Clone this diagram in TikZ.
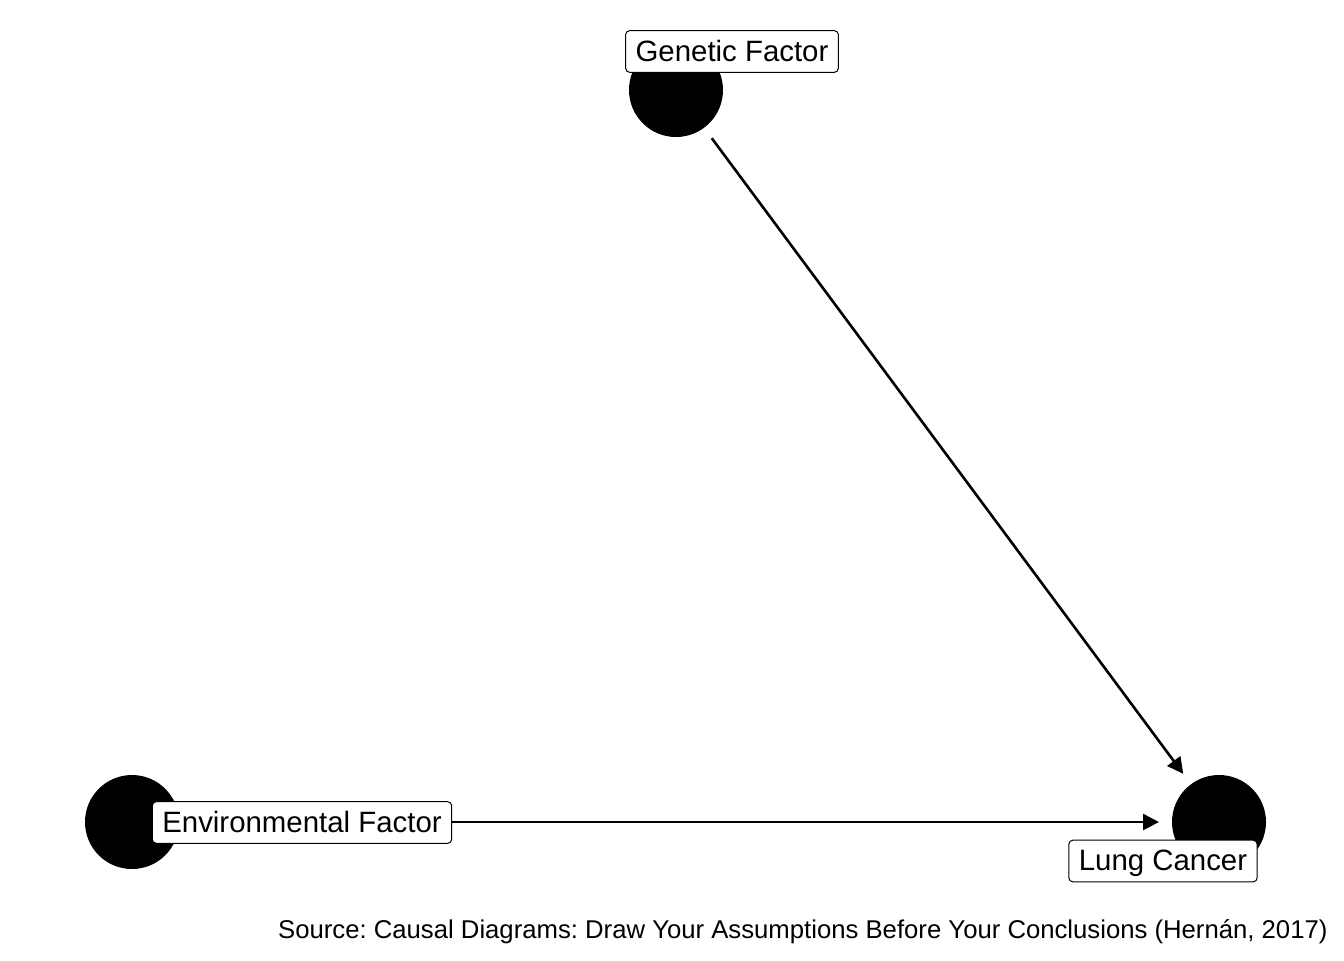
\documentclass[tikz,border=0pt]{standalone}
\usepackage{fontspec}
\setmainfont{Liberation Sans}
\usetikzlibrary{arrows.meta}
\frenchspacing

\tikzset{
  var/.style={circle, fill=black, minimum size=47pt, inner sep=0pt, outer sep=6.5pt},
  varlabel/.style={draw=black, fill=white, rounded corners=2pt, line width=0.5pt,
    font=\fontsize{14.7}{16}\selectfont, text height=12pt, text depth=2.4pt,
    inner xsep=5pt, inner ysep=3.2pt},
  causal/.style={line width=1.3pt, -{Triangle[length=8pt,width=8pt]}}
}

\begin{document}
\begin{tikzpicture}[x=0.5pt, y=-0.5pt]
  \useasboundingbox (0,0) rectangle (1344,960);

  % variables
  \node[var] (gen) at (676,90) {};
  \node[var] (env) at (132,822) {};
  \node[var] (lung) at (1219,822) {};

  % causal arrows
  \draw[causal] (gen) -- (lung);
  \draw[causal] (env) -- (lung);

  % labels
  \node[varlabel] (genL) at (732,51.5) {Genetic Factor};
  \node[varlabel] (envL) at (302,822.5) {Environmental Factor};
  \node[varlabel] (lungL) at (1163,861) {Lung Cancer};

  \node[anchor=base east, inner sep=0pt, font=\fontsize{12.85}{14}\selectfont]
    (source) at (1328,938)
    {Source: Causal Diagrams: Draw Your Assumptions Before Your Conclusions (Hernán, 2017)};
\end{tikzpicture}
\end{document}
